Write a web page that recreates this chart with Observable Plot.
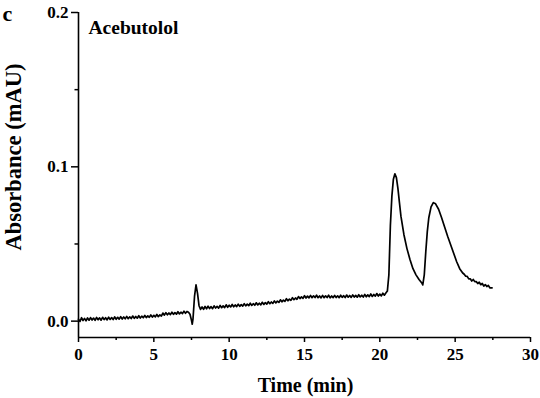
<!DOCTYPE html>
<html><head><meta charset="utf-8">
<script src="https://cdn.jsdelivr.net/npm/d3@7"></script>
<script src="https://cdn.jsdelivr.net/npm/@observablehq/plot@0.6"></script>
<style>
html,body{margin:0;padding:0;background:#fff}
</style>
</head><body><div id="chart"></div>
<script>
const time = [
  0.0,0.1,0.2,0.3,0.4,0.5,0.6,0.7,0.8,0.9,
  1.0,1.1,1.2,1.3,1.4,1.5,1.6,1.7,1.8,1.9,
  2.0,2.1,2.2,2.3,2.4,2.5,2.6,2.7,2.8,2.9,
  3.0,3.1,3.2,3.3,3.4,3.5,3.6,3.7,3.8,3.9,
  4.0,4.1,4.2,4.3,4.4,4.5,4.6,4.7,4.8,4.9,
  5.0,5.1,5.2,5.3,5.4,5.5,5.6,5.7,5.8,5.9,
  6.0,6.1,6.2,6.3,6.4,6.5,6.6,6.7,6.8,6.9,
  7.0,7.1,7.2,7.3,7.4,7.5,7.55,7.6,7.7,7.8,
  7.9,8.0,8.1,8.2,8.3,8.4,8.5,8.6,8.7,8.8,
  8.9,9.0,9.1,9.2,9.3,9.4,9.5,9.6,9.7,9.8,
  9.9,10.0,10.1,10.2,10.3,10.4,10.5,10.6,10.7,10.8,
  10.9,11.0,11.1,11.2,11.3,11.4,11.5,11.6,11.7,11.8,
  11.9,12.0,12.1,12.2,12.3,12.4,12.5,12.6,12.7,12.8,
  12.9,13.0,13.1,13.2,13.3,13.4,13.5,13.6,13.7,13.8,
  13.9,14.0,14.1,14.2,14.3,14.4,14.5,14.6,14.7,14.8,
  14.9,15.0,15.1,15.2,15.3,15.4,15.5,15.6,15.7,15.8,
  15.9,16.0,16.1,16.2,16.3,16.4,16.5,16.6,16.7,16.8,
  16.9,17.0,17.1,17.2,17.3,17.4,17.5,17.6,17.7,17.8,
  17.9,18.0,18.1,18.2,18.3,18.4,18.5,18.6,18.7,18.8,
  18.9,19.0,19.1,19.2,19.3,19.4,19.5,19.6,19.7,19.8,
  19.9,20.0,20.1,20.2,20.3,20.4,20.5,20.6,20.7,20.8,
  20.9,21.0,21.1,21.2,21.3,21.4,21.6,21.8,22.0,22.2,
  22.4,22.6,22.8,22.85,22.95,23.05,23.15,23.25,23.4,23.55,
  23.7,23.9,24.1,24.3,24.5,24.7,24.9,25.1,25.3,25.5,
  25.6,25.7,25.8,25.9,26.0,26.1,26.2,26.3,26.4,26.5,
  26.6,26.7,26.8,26.9,27.0,27.1,27.2,27.3,27.45
];
const absorbance = [
  0.0012,-0.0002,0.0022,0.0004,0.0018,0.0002,0.0021,0.0006,0.0023,0.0007,
  0.0020,0.0005,0.0024,0.0009,0.0021,0.0006,0.0025,0.0010,0.0022,0.0008,
  0.0026,0.0011,0.0023,0.0010,0.0028,0.0012,0.0025,0.0013,0.0029,0.0014,
  0.0027,0.0015,0.0031,0.0016,0.0028,0.0017,0.0033,0.0018,0.0030,0.0019,
  0.0035,0.0020,0.0032,0.0022,0.0037,0.0023,0.0034,0.0025,0.0040,0.0026,
  0.0038,0.0028,0.0043,0.0029,0.0041,0.0033,0.0052,0.0039,0.0055,0.0041,
  0.0053,0.0042,0.0058,0.0044,0.0055,0.0045,0.0061,0.0047,0.0058,0.0049,
  0.0065,0.0051,0.0063,0.0058,0.0045,0.0005,-0.0020,0.0015,0.0160,0.0235,
  0.0180,0.0100,0.0076,0.0092,0.0077,0.0095,0.0080,0.0097,0.0082,0.0094,
  0.0081,0.0099,0.0085,0.0096,0.0084,0.0102,0.0087,0.0099,0.0088,0.0106,
  0.0090,0.0103,0.0092,0.0108,0.0093,0.0105,0.0094,0.0110,0.0096,0.0107,
  0.0097,0.0113,0.0099,0.0110,0.0100,0.0116,0.0102,0.0113,0.0103,0.0119,
  0.0105,0.0116,0.0106,0.0122,0.0108,0.0120,0.0110,0.0126,0.0113,0.0124,
  0.0115,0.0131,0.0118,0.0130,0.0121,0.0138,0.0125,0.0136,0.0128,0.0145,
  0.0132,0.0143,0.0135,0.0152,0.0139,0.0150,0.0142,0.0159,0.0146,0.0157,
  0.0148,0.0165,0.0150,0.0162,0.0151,0.0167,0.0152,0.0164,0.0153,0.0168,
  0.0152,0.0163,0.0151,0.0167,0.0152,0.0164,0.0153,0.0168,0.0151,0.0163,
  0.0152,0.0167,0.0153,0.0164,0.0152,0.0168,0.0154,0.0165,0.0153,0.0169,
  0.0155,0.0166,0.0154,0.0170,0.0156,0.0167,0.0155,0.0171,0.0157,0.0168,
  0.0156,0.0173,0.0158,0.0170,0.0159,0.0176,0.0160,0.0173,0.0162,0.0179,
  0.0163,0.0175,0.0164,0.0181,0.0168,0.0182,0.0195,0.0300,0.0620,0.0810,
  0.0920,0.0955,0.0930,0.0860,0.0770,0.0680,0.0560,0.0470,0.0400,0.0340,
  0.0300,0.0270,0.0245,0.0235,0.0300,0.0450,0.0580,0.0670,0.0740,0.0768,
  0.0760,0.0725,0.0670,0.0610,0.0550,0.0495,0.0440,0.0385,0.0340,0.0312,
  0.0304,0.0291,0.0290,0.0274,0.0274,0.0260,0.0270,0.0256,0.0256,0.0244,
  0.0252,0.0236,0.0244,0.0227,0.0237,0.0224,0.0232,0.0216,0.0215
];
const xTicks = [0, 5, 10, 15, 20, 25, 30];
const xMinorTicks = [2.5, 7.5, 12.5, 17.5, 22.5, 27.5];
const yTicks = [0.0, 0.1, 0.2];
const yMinorTicks = [0.05, 0.15];
const xDomain = [0, 30];
const yDomain = [-0.0106, 0.2];
const panelLabel = "c";
const compoundLabel = "Acebutolol";
const xLabel = "Time (min)";
const yLabel = "Absorbance (mAU)";

const data = time.map((t, i) => ({t, a: absorbance[i]}));
const font = "Liberation Serif";

const chart = Plot.plot({
  width: 540, height: 398,
  marginLeft: 78, marginRight: 10, marginTop: 12, marginBottom: 61,
  style: {fontFamily: font, fontWeight: "bold", fontSize: "17px", color: "#000", background: "#fff", overflow: "visible"},
  x: {domain: xDomain},
  y: {domain: yDomain},
  marks: [
    Plot.ruleX([xDomain[0]], {stroke: "#000", strokeWidth: 1.6}),
    Plot.ruleY([yDomain[0]], {stroke: "#000", strokeWidth: 1.6}),
    Plot.axisX({ticks: xTicks, tickSize: 5, tickPadding: 5, tickFormat: d => String(d), label: null, fontFamily: font, fontSize: 17, fontWeight: "bold", strokeWidth: 1.5, stroke: "#000", fill: "#000"}),
    Plot.axisX({ticks: xMinorTicks, tickSize: 3, tickFormat: () => "", label: null, strokeWidth: 1.5, stroke: "#000"}),
    Plot.axisY({ticks: yTicks, tickSize: 7, tickPadding: 3, tickFormat: d3.format(".1f"), label: null, fontFamily: font, fontSize: 17, fontWeight: "bold", strokeWidth: 1.5, stroke: "#000", fill: "#000"}),
    Plot.axisY({ticks: yMinorTicks, tickSize: 3.5, tickFormat: () => "", label: null, strokeWidth: 1.5, stroke: "#000"}),
    Plot.lineY(data, {x: "t", y: "a", stroke: "#000", strokeWidth: 1.7}),
    Plot.text([panelLabel], {frameAnchor: "top-left", textAnchor: "start", lineAnchor: "middle", dx: -76, dy: 1, fontFamily: font, fontSize: 22, fontWeight: "bold", fill: "#000"}),
    Plot.text([compoundLabel], {frameAnchor: "top-left", textAnchor: "start", lineAnchor: "middle", dx: 10, dy: 15, fontFamily: font, fontSize: 19.5, fontWeight: "bold", fill: "#000"}),
    Plot.text([xLabel], {frameAnchor: "bottom", textAnchor: "middle", lineAnchor: "middle", dx: 1, dy: 48, fontFamily: font, fontSize: 20, fontWeight: "bold", fill: "#000"}),
    Plot.text([yLabel], {frameAnchor: "left", textAnchor: "middle", lineAnchor: "middle", rotate: -90, dx: -64.5, dy: -18, fontFamily: font, fontSize: 22.5, fontWeight: "bold", fill: "#000"})
  ]
});
document.getElementById("chart").appendChild(chart);
</script>
</body></html>
